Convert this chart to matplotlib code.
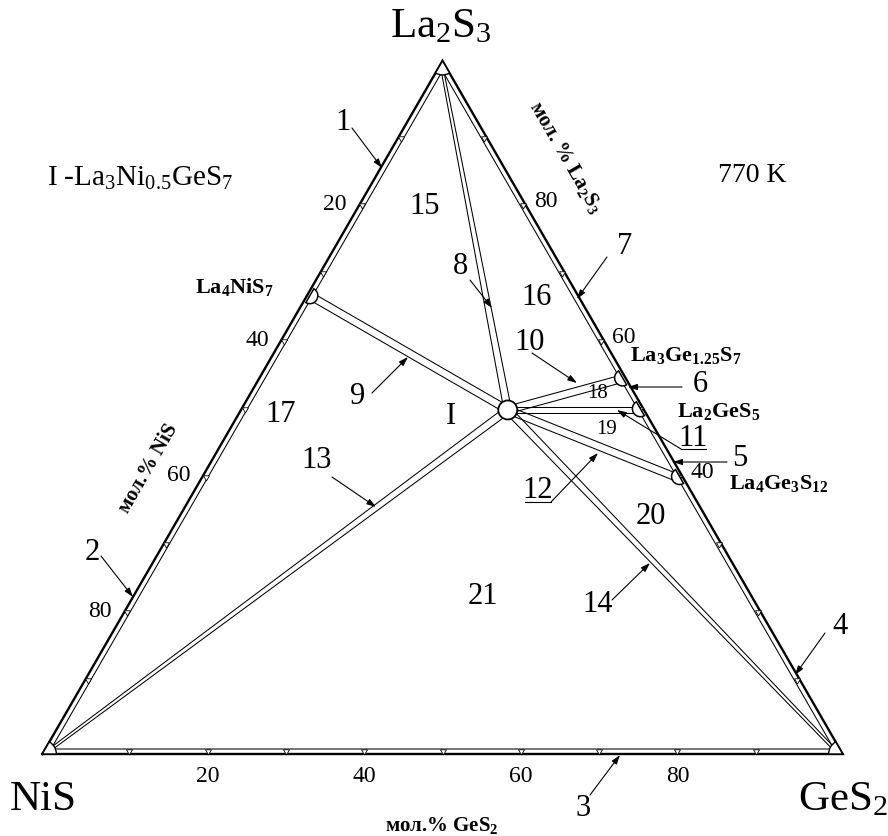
import numpy as np
import matplotlib
matplotlib.use("Agg")
import matplotlib.pyplot as plt
from matplotlib.patches import Wedge, Circle

plt.rcParams["font.family"] = ["Liberation Serif", "DejaVu Serif"]
plt.rcParams["mathtext.fontset"] = "custom"
plt.rcParams["mathtext.rm"] = "Liberation Serif"
plt.rcParams["mathtext.it"] = "Liberation Serif:italic"
plt.rcParams["mathtext.bf"] = "Liberation Serif:bold"

# ---------------- data ----------------
vertex_names = ["NiS", "GeS$_2$", "La$_2$S$_3$"]
# binary compounds, mole fractions (NiS, GeS2, La2S3)
compound_labels = [r"$\mathbf{La_4NiS_7}$", r"$\mathbf{La_3Ge_{1.25}S_7}$",
                   r"$\mathbf{La_2GeS_5}$", r"$\mathbf{La_4Ge_3S_{12}}$"]
compound_nis = [1/3, 0.0, 0.0, 0.0]
compound_ges2 = [0.0, 1.25/2.75, 0.5, 0.6]
compound_la2s3 = [2/3, 1.5/2.75, 0.5, 0.4]
# ternary compound I = La3Ni0.5GeS7
I_nis, I_ges2, I_la2s3 = 1/6, 1/3, 1/2
# tie lines from I (other end composition) and their numbers
tie_numbers = [8, 9, 10, 11, 12, 14, 13]
tie_nis = [0.0, 1/3, 0.0, 0.0, 0.0, 0.0, 1.0]
tie_ges2 = [0.0, 0.0, 1.25/2.75, 0.5, 0.6, 1.0, 0.0]
tie_la2s3 = [1.0, 2/3, 1.5/2.75, 0.5, 0.4, 0.0, 0.0]
tick_values = [10, 20, 30, 40, 50, 60, 70, 80, 90]
bottom_tick_labels = [20, 40, 60, 80]   # mol.% GeS2
left_tick_labels = [20, 40, 60, 80]     # mol.% NiS
right_tick_labels = [40, 60, 80]        # mol.% La2S3
region_labels = ["15", "16", "17", "18", "19", "20", "21", "I"]

# ---------------- layout ----------------
S = 783.0          # pixels per unit side
OX, OY = 51.0, 749.0
W, H = 888, 836
SQ3 = np.sqrt(3)


def cart(n, g, l):
    s = n + g + l
    return (g + 0.5 * l) / s, (l * SQ3 / 2) / s


def P(xp, yp):
    return (xp - OX) / S, (OY - yp) / S


fig = plt.figure(figsize=(W / 100, H / 100), dpi=100)
ax = fig.add_axes([0, 0, 1, 1])
ax.set_xlim(-OX / S, (W - OX) / S)
ax.set_ylim(-(H - OY) / S, OY / S)
ax.axis("off")

LW_THIN = 0.75
d = 5.0 / S
verts_in = np.array([cart(1, 0, 0), cart(0, 1, 0), cart(0, 0, 1)])
verts_out = np.array([[-d * SQ3, -d], [1 + d * SQ3, -d], [0.5, SQ3 / 2 + 2 * d]])

ax.plot(np.r_[verts_out[:, 0], verts_out[0, 0]], np.r_[verts_out[:, 1], verts_out[0, 1]],
        color="k", lw=1.7, solid_joinstyle="miter", zorder=3)
ax.plot(np.r_[verts_in[:, 0], verts_in[0, 0]], np.r_[verts_in[:, 1], verts_in[0, 1]],
        color="k", lw=LW_THIN, zorder=3)


def double_line(p, q, w0, w1):
    p, q = np.asarray(p), np.asarray(q)
    u = (q - p) / np.hypot(*(q - p))
    nrm = np.array([-u[1], u[0]])
    for s in (-1, 1):
        a = p + s * w0 / 2 / S * nrm
        b = q + s * w1 / 2 / S * nrm
        ax.plot([a[0], b[0]], [a[1], b[1]], color="k", lw=LW_THIN, zorder=2)


pI = cart(I_nis, I_ges2, I_la2s3)
for num, n, g, l in zip(tie_numbers, tie_nis, tie_ges2, tie_la2s3):
    pe = cart(n, g, l)
    if num in (8, 13, 14):
        double_line(pe, pI, 2.5, 7.5)
    elif num == 11:
        double_line(pe, pI, 6.0, 6.0)
    else:
        double_line(pe, pI, 7.5, 7.5)

# ticks (small triangles between inner and outer lines)
off = 2.3 / S
for v in tick_values:
    f = v / 100
    x, y = cart(1 - f, f, 0)
    ax.plot(x, y - off, marker=(3, 0, 180), ms=5, mfc="white", mec="k", mew=0.6, zorder=4)
    x, y = cart(f, 0, 1 - f)
    ax.plot(x - off * SQ3 / 2, y + off / 2, marker=(3, 0, 60), ms=5, mfc="white", mec="k",
            mew=0.6, zorder=4)
    x, y = cart(0, 1 - f, f)
    ax.plot(x + off * SQ3 / 2, y + off / 2, marker=(3, 0, -60), ms=5, mfc="white", mec="k",
            mew=0.6, zorder=4)

TICK_FS = 17
for v in bottom_tick_labels:
    x, y = cart(1 - v / 100, v / 100, 0)
    ax.text(x, y - 27 / S, str(v), ha="center", va="center", fontsize=TICK_FS)
for v in left_tick_labels:
    x, y = cart(v / 100, 0, 1 - v / 100)
    ax.text(x - 29 / S, y + 2 / S, str(v), ha="center", va="center", fontsize=TICK_FS)
for v in right_tick_labels:
    x, y = cart(0, 1 - v / 100, v / 100)
    ax.text(x + 25 / S, y + 5 / S, str(v), ha="center", va="center", fontsize=TICK_FS)

# vertex sectors
R_V = 14.0 / S
for (vx, vy), (t1, t2) in zip(verts_out, [(0, 60), (120, 180), (240, 300)]):
    ax.add_patch(Wedge((vx, vy), R_V, t1, t2, fc="white", ec="k", lw=1.0, zorder=5))

# compound semicircles (flat side on the outer edge, bulging inward)
R_C = 8.0 / S
for n, g, l in zip(compound_nis, compound_ges2, compound_la2s3):
    x, y = cart(n, g, l)
    if n > 0:
        t1, t2 = -120, 60
        cx, cy = x - 2.5 / S * SQ3 / 2, y + 2.5 / S / 2
    else:
        t1, t2 = 120, 300
        cx, cy = x + 2.5 / S * SQ3 / 2, y + 2.5 / S / 2
    ax.add_patch(Wedge((cx, cy), R_C, t1, t2, fc="white", ec="k", lw=1.1, zorder=5))

ax.add_patch(Circle(pI, 9.5 / S, fc="white", ec="k", lw=1.3, zorder=6))

# compound labels
comp_pos = [(234, 287), (686, 355), (719, 411), (779, 483)]
for lab, (xp, yp) in zip(compound_labels, comp_pos):
    ax.text(*P(xp, yp), lab, ha="center", va="center", fontsize=16)

# vertex names
ax.text(*P(43, 810), vertex_names[0], ha="center", va="baseline", fontsize=31)
ax.text(*P(843, 810), vertex_names[1], ha="center", va="baseline", fontsize=31)
ax.text(*P(441, 37), vertex_names[2], ha="center", va="baseline", fontsize=31)

# titles
ax.text(*P(233, 186), "I -La$_3$Ni$_{0.5}$GeS$_7$", ha="right", va="baseline", fontsize=21)
ax.text(*P(752, 175), "770 K", ha="center", va="center", fontsize=20)

# axis titles
ax.text(*P(149, 468), "мол.% NiS", rotation=60, ha="center", va="center",
        fontsize=15, fontweight="bold", rotation_mode="anchor")
ax.text(*P(566, 157), r"мол. % $\mathbf{La_2S_3}$", rotation=-60, ha="center", va="center",
        fontsize=15, fontweight="bold", rotation_mode="anchor")
ax.text(*P(442, 831), r"мол.% $\mathbf{GeS_2}$", ha="center", va="baseline",
        fontsize=15, fontweight="bold")

# region labels
region_pos = [(425, 207), (537, 297), (281, 415), (598, 393), (607, 430), (651, 516),
              (483, 597), (451, 417)]
for lab, (xp, yp) in zip(region_labels, region_pos):
    fs = 15 if lab in ("18", "19") else 22
    ax.text(*P(xp, yp), lab, ha="center", va="center", fontsize=fs)

# numbered arrows: text position, arrow tail, arrow tip (pixels)
NUM_FS = 22
arrow_layout = {
    "1": ((343, 123), (352, 128), (382, 168)),
    "2": ((92, 552), (101, 556), (133, 597)),
    "3": ((583, 808), (590, 795), (620, 755)),
    "4": ((840, 627), (825, 633), (795, 675)),
    "5": ((740, 458), (727, 462), (673, 462)),
    "6": ((700, 385), (682, 387), (628, 387)),
    "7": ((625, 247), (607, 257), (577, 299)),
    "8": ((460, 266), (470, 280), (492, 308)),
    "9": ((358, 397), (372, 393), (408, 357)),
    "10": ((530, 342), (532, 353), (577, 383)),
    "13": ((317, 460), (332, 477), (376, 507)),
    "14": ((598, 605), (612, 600), (650, 563)),
}
aprops = dict(arrowstyle="-|>,head_length=0.55,head_width=0.18", color="k", lw=0.8,
              shrinkA=0, shrinkB=0)
for lab, (tp, tail, tip) in arrow_layout.items():
    ax.text(*P(*tp), lab, ha="center", va="center", fontsize=NUM_FS)
    ax.annotate("", xy=P(*tip), xytext=P(*tail), arrowprops=aprops, zorder=7)

# underlined labels 11 and 12 with leaders
under_layout = {
    "11": ((693, 438), (681, 706, 449), (681, 449), (617, 410)),
    "12": ((538, 490), (525, 551, 502), (551, 502), (598, 453)),
}
for lab, (tp, (u0, u1, uy), tail, tip) in under_layout.items():
    ax.text(*P(*tp), lab, ha="center", va="center", fontsize=NUM_FS)
    a, b = P(u0, uy), P(u1, uy)
    ax.plot([a[0], b[0]], [a[1], b[1]], color="k", lw=0.8)
    ax.annotate("", xy=P(*tip), xytext=P(*tail), arrowprops=aprops, zorder=7)

fig.savefig("out.png", dpi=100)
